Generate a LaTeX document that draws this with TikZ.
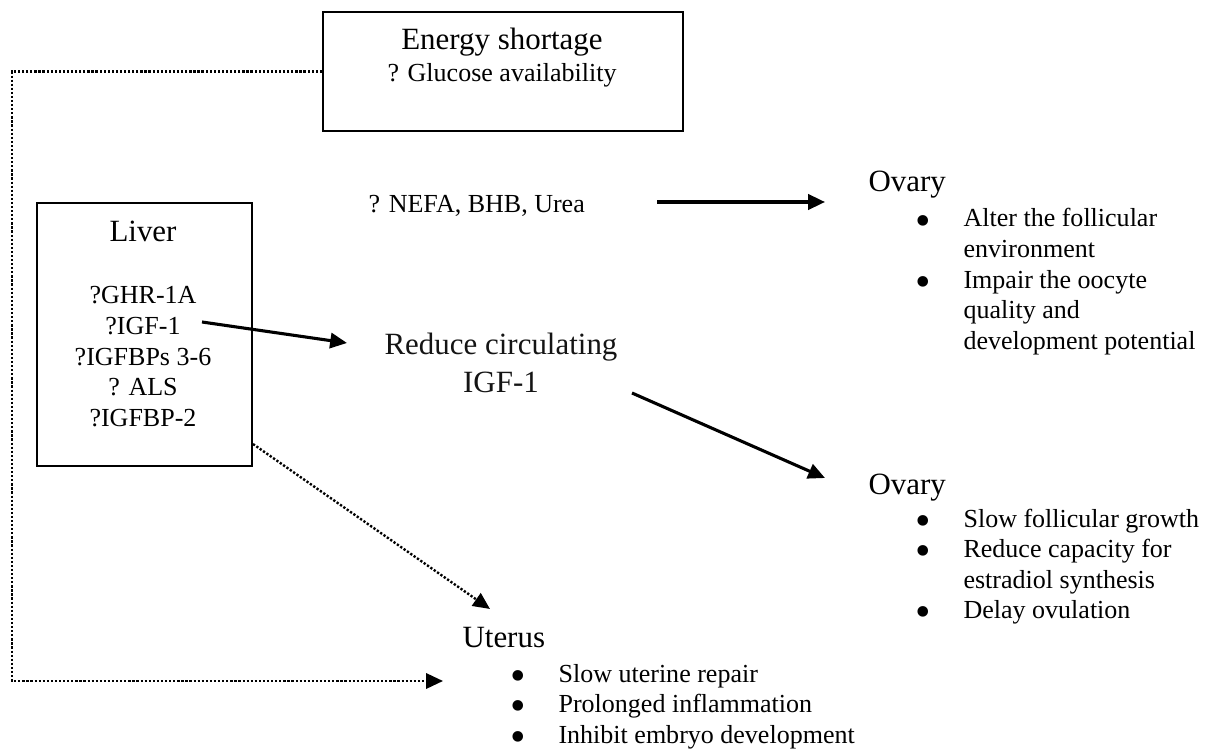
\documentclass[tikz,border=0pt]{standalone}
\usepackage{fontspec}
\setmainfont{Liberation Serif}
\usetikzlibrary{arrows.meta}
\newcommand{\itm}{\llap{\makebox[0pt][c]{\smash{\raisebox{-0.1cm}{\scalebox{1.7}{\textbullet}}}}\hspace{0.5cm}}}
\tikzset{
  box/.style={draw, line width=0.7pt, inner sep=0pt},
  bigtext/.style={font=\fontsize{11}{13.5}\selectfont, inner sep=0pt},
  smalltext/.style={font=\fontsize{9.25}{10.9}\selectfont, inner sep=0pt},
  flow/.style={line width=1.1pt, -{Triangle[length=0.21cm,width=0.19cm]}},
  dotflow/.style={line width=0.85pt, dash pattern=on 0.8pt off 0.65pt,
    -{Triangle[length=0.21cm,width=0.19cm]}}
}

\begin{document}
\begin{tikzpicture}[x=0.0125cm,y=-0.0125cm]
\useasboundingbox (0,0) rectangle (1212,752);
% boxes
\node[box, minimum width=4.5cm, minimum height=1.4875cm, anchor=north west] (energy) at (322,11) {};
\node[box, minimum width=2.6875cm, minimum height=3.2875cm, anchor=north west] (liver) at (36,202) {};
% texts
\node[bigtext, anchor=base] (energy-title) at (502,50) {Energy shortage};
\node[smalltext, anchor=base] (glucose) at (502,82) {? Glucose availability};
\node[bigtext, anchor=base] (liver-title) at (143,242) {Liver};
\node[smalltext, anchor=base] (liver-list) at (143,304)
  {\begin{tabular}[t]{@{}c@{}}?GHR-1A\\ ?IGF-1\\ ?IGFBPs 3-6\\ ? ALS\\ ?IGFBP-2\end{tabular}};
\node[smalltext, anchor=base west] (nefa) at (368,213) {? NEFA, BHB, Urea};
\node[bigtext, anchor=base, text=black!92] (reduce) at (501,355)
  {\begin{tabular}[t]{@{}c@{}}Reduce circulating\\ IGF-1\end{tabular}};
\node[bigtext, anchor=base west] (ovary-a) at (868,192) {Ovary};
\node[smalltext, anchor=base west] (ovary-a-list) at (963,227)
  {\begin{tabular}[t]{@{}l@{}}\itm Alter the follicular\\ environment\\ \itm Impair the oocyte\\ quality and\\ development potential\end{tabular}};
\node[bigtext, anchor=base west] (ovary-b) at (868,494) {Ovary};
\node[smalltext, anchor=base west] (ovary-b-list) at (963,527)
  {\begin{tabular}[t]{@{}l@{}}\itm Slow follicular growth\\ \itm Reduce capacity for\\ estradiol synthesis\\ \itm Delay ovulation\end{tabular}};
\node[bigtext, anchor=base west] (uterus) at (462,647) {Uterus};
\node[smalltext, anchor=base west] (uterus-list) at (558,682)
  {\begin{tabular}[t]{@{}l@{}}\itm Slow uterine repair\\ \itm Prolonged inflammation\\ \itm Inhibit embryo development\end{tabular}};
% arrow ends
\coordinate (igf-out) at (202,322);
\coordinate (reduce-in) at (347,343);
\coordinate (nefa-out) at (657,202);
\coordinate (ovary-a-in) at (825,202);
\coordinate (reduce-out) at (632,393);
\coordinate (ovary-b-in) at (825,478);
\coordinate (uterus-top) at (490,609);
\coordinate (uterus-side) at (443,681);
% arrows
\draw[flow] (igf-out) -- (reduce-in);
\draw[flow] (nefa-out) -- (ovary-a-in);
\draw[flow] (reduce-out) -- (ovary-b-in);
\draw[dotflow] ([yshift=0.2875cm]liver.south east) -- (uterus-top);
\draw[dotflow] (energy.west) -- ++(-310,0) |- (uterus-side);
\end{tikzpicture}
\end{document}
